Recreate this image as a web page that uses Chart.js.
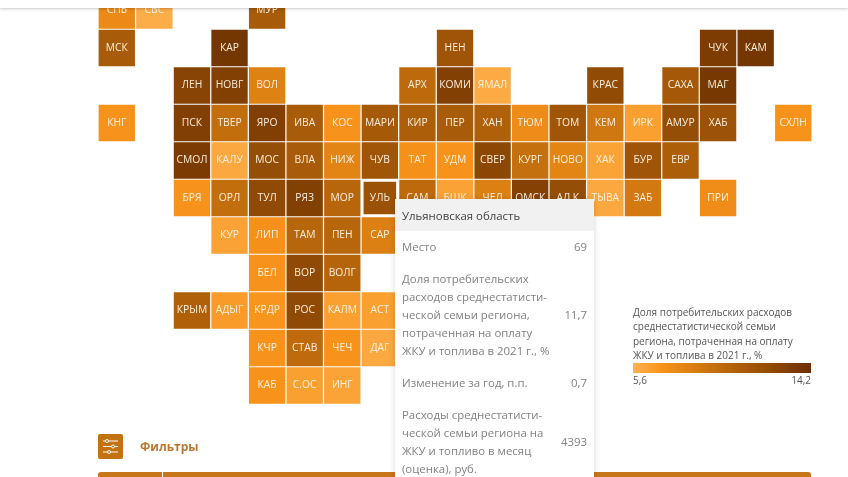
<!DOCTYPE html>
<html lang="ru">
<head>
<meta charset="utf-8">
<title>Доля расходов на ЖКУ и топливо</title>
<script src="https://cdn.jsdelivr.net/npm/chart.js@4"></script>
<style>
    html, body { margin: 0; width: 848px; height: 477px; overflow: hidden; background: #fff; }
    body { font-family: "Open Sans", sans-serif; position: relative; }
    #page { position: absolute; inset: 0; filter: blur(0.35px); }
    #tileChart { position: absolute; left: 0; top: 0; }
    #topBar { position: absolute; left: 0; top: 0; width: 848px; height: 8px; background: #fff; box-shadow: 0 1px 3px rgba(0,0,0,.22); }
    #legend { position: absolute; left: 633px; top: 305px; width: 178px; font-size: 10px; line-height: 14.4px; color: #555; }
    #legendBar { height: 10.5px; margin-top: 0; }
    #legendEnds { display: flex; justify-content: space-between; line-height: 15px; }
    #filterIcon { position: absolute; left: 98px; top: 434px; width: 25px; height: 25px; background: #c27210; border-radius: 2px; }
    #filterText { position: absolute; left: 140px; top: 438px; font-size: 12px; line-height: 18px; font-weight: 700; color: #b87830; }
    #filterBar { position: absolute; left: 98px; top: 472px; width: 713px; height: 8px; background: #c8761a; border-radius: 3px 3px 0 0; }
    #filterBar i { position: absolute; left: 64px; top: 0; width: 1px; height: 8px; background: #fff; }
    #tip { position: absolute; left: 395px; top: 199px; width: 199px; height: 290px; background: #fff; box-shadow: 0 1px 6px rgba(0,0,0,.16); font-size: 11.4px; line-height: 18px; color: #828282; }
    #tipHead { height: 32px; line-height: 33px; padding-left: 7px; background: #f1f1f1; color: #444; }
    .tipRow { display: flex; align-items: center; justify-content: space-between; padding: 7px 7px 7px 7px; }
    .tipRow span:first-child { width: 152px; }
</style>
</head>
<body>
<div id="page">
    <canvas id="tileChart" width="848" height="477"></canvas>
    <div id="topBar"></div>
    <div id="legend">
        <div id="legendTitle"></div>
        <div id="legendBar"></div>
        <div id="legendEnds"><span id="legendMin"></span><span id="legendMax"></span></div>
    </div>
    <div id="filterIcon">
        <svg width="25" height="25" stroke="#fff" stroke-width="1" fill="#c27210">
            <path d="M5 7H20M5 12.5H20M5 18H20"/>
            <circle cx="9" cy="7" r="1.5"/><circle cx="15" cy="12.5" r="1.5"/><circle cx="11" cy="18" r="1.5"/>
        </svg>
    </div>
    <div id="filterText">Фильтры</div>
    <div id="filterBar"><i></i></div>
    <div id="tip"><div id="tipHead"></div></div>
</div>
<script>
// Плитки регионов по рядам карты, null = пустая клетка
const tileLabels = [
    ['СПБ', 'СВС', null, null, 'МУР'],
    ['МСК', null, null, 'КАР', null, null, null, null, null, 'НЕН', null, null, null, null, null, null, 'ЧУК', 'КАМ'],
    [null, null, 'ЛЕН', 'НОВГ', 'ВОЛ', null, null, null, 'АРХ', 'КОМИ', 'ЯМАЛ', null, null, 'КРАС', null, 'САХА', 'МАГ'],
    ['КНГ', null, 'ПСК', 'ТВЕР', 'ЯРО', 'ИВА', 'КОС', 'МАРИ', 'КИР', 'ПЕР', 'ХАН', 'ТЮМ', 'ТОМ', 'КЕМ', 'ИРК', 'АМУР', 'ХАБ', null, 'СХЛН'],
    [null, null, 'СМОЛ', 'КАЛУ', 'МОС', 'ВЛА', 'НИЖ', 'ЧУВ', 'ТАТ', 'УДМ', 'СВЕР', 'КУРГ', 'НОВО', 'ХАК', 'БУР', 'ЕВР'],
    [null, null, 'БРЯ', 'ОРЛ', 'ТУЛ', 'РЯЗ', 'МОР', 'УЛЬ', 'САМ', 'БШК', 'ЧЕЛ', 'ОМСК', 'АЛ К', 'ТЫВА', 'ЗАБ', null, 'ПРИ'],
    [null, null, null, 'КУР', 'ЛИП', 'ТАМ', 'ПЕН', 'САР'],
    [null, null, null, null, 'БЕЛ', 'ВОР', 'ВОЛГ'],
    [null, null, 'КРЫМ', 'АДЫГ', 'КРДР', 'РОС', 'КАЛМ', 'АСТ'],
    [null, null, null, null, 'КЧР', 'СТАВ', 'ЧЕЧ', 'ДАГ'],
    [null, null, null, null, 'КАБ', 'С.ОС', 'ИНГ']
];

// Значения (оценка по цвету плиток), %
const tileValues = [
    [7.6, 5.8, null, null, 11],
    [11, null, null, 13.7, null, null, null, null, null, 11.5, null, null, null, null, null, null, 13.3, 13.7],
    [null, null, 12.7, 13, 8.2, null, null, null, 9.9, 13, 5.9, null, null, 12.2, null, 11.2, 13.6],
    [7, null, 13.1, 9.6, 13.1, 11, 7, 11.1, 10.8, 11, 10.6, 7.5, 11.4, 9, 6.4, 12, 11.6, null, 7],
    [null, null, 13.4, 6, 12, 11, 8, 11.4, 7.1, 7, 12.5, 9.5, 8, 6.2, 11.5, 10.8],
    [null, null, 7, 9.6, 12.3, 13, 10.2, 11.7, 9.9, 6.3, 8.3, 12.9, 12, 6, 8.8, null, 7.4],
    [null, null, null, 6.3, 7.1, 10.2, 10.2, 8.3],
    [null, null, null, null, 7, 12.3, 10.3],
    [null, null, 10.6, 6.6, 6.9, 12.3, 6.4, 6.4],
    [null, null, null, null, 7, 9.8, 7, 6],
    [null, null, null, null, 7, 6.4, 6.2]
];

const activeRegion = 'УЛЬ';
const legendTitle = 'Доля потребительских расходов среднестатистической семьи региона, потраченная на оплату ЖКУ и топлива в 2021 г., %';
const valueMin = 5.6;
const valueMax = 14.2;
const colorStops = ['#fdb150', '#f7931a', '#b5640a', '#6c3000'];
const colorStopAt = [0, 0.16, 0.55, 1];

const tipTitle = 'Ульяновская область';
const tipNames = [
    'Место',
    'Доля потребительских расходов среднестатисти-ческой семьи региона, потраченная на оплату ЖКУ и топлива в 2021 г., %',
    'Изменение за год, п.п.',
    'Расходы среднестатисти-ческой семьи региона на ЖКУ и топливо в месяц (оценка), руб.'
];
const tipValues = ['69', '11,7', '0,7', '4393'];

function hexToRgb(hex) {
    return [1, 3, 5].map(i => parseInt(hex.slice(i, i + 2), 16));
}

// Цвет плитки по значению
function valueColor(value) {
    const t = (value - valueMin) / (valueMax - valueMin);
    let i = 0;
    while (i < colorStops.length - 2 && t > colorStopAt[i + 1]) i++;
    const k = Math.min(1, Math.max(0, (t - colorStopAt[i]) / (colorStopAt[i + 1] - colorStopAt[i])));
    const a = hexToRgb(colorStops[i]);
    const b = hexToRgb(colorStops[i + 1]);
    return `rgb(${a.map((c, n) => Math.round(c + (b[n] - c) * k)).join(',')})`;
}

const points = [];
tileLabels.forEach((row, r) => {
    row.forEach((label, c) => {
        if (label) points.push({ x: c, y: r, label: label, value: tileValues[r][c] });
    });
});

// Подписи внутри плиток
const tileTextPlugin = {
    id: 'tileText',
    afterDatasetsDraw(chart) {
        const ctx = chart.ctx;
        const meta = chart.getDatasetMeta(0);
        ctx.save();
        ctx.font = '10.3px "Open Sans"';
        ctx.textAlign = 'center';
        ctx.textBaseline = 'middle';
        ctx.fillStyle = 'rgba(255,245,232,0.95)';
        meta.data.forEach((el, i) => {
            ctx.fillText(points[i].label, el.x, el.y);
        });
        ctx.restore();
    }
};

new Chart(document.getElementById('tileChart').getContext('2d'), {
    type: 'scatter',
    data: {
        datasets: [{
            data: points,
            pointStyle: 'rect',
            pointRadius: ctx => (ctx.raw.label === activeRegion ? 24.8 : 25.7),
            pointBorderWidth: ctx => (ctx.raw.label === activeRegion ? 2.5 : 0),
            pointBorderColor: '#fff',
            pointBackgroundColor: ctx => valueColor(ctx.raw.value)
        }]
    },
    options: {
        responsive: false,
        animation: false,
        events: [],
        layout: { padding: 0, autoPadding: false },
        plugins: { legend: { display: false }, tooltip: { enabled: false } },
        scales: {
            x: { type: 'linear', display: false, min: -3.108, max: 19.457 },
            y: { type: 'linear', display: false, reverse: true, min: -0.28, max: 12.44 }
        }
    },
    plugins: [tileTextPlugin]
});

// Легенда
document.getElementById('legendTitle').textContent = legendTitle;
document.getElementById('legendBar').style.background =
    `linear-gradient(to right, ${colorStops.map((c, i) => `${c} ${colorStopAt[i] * 100}%`).join(', ')})`;
document.getElementById('legendMin').textContent = String(valueMin).replace('.', ',');
document.getElementById('legendMax').textContent = String(valueMax).replace('.', ',');

// Подсказка
const tip = document.getElementById('tip');
document.getElementById('tipHead').textContent = tipTitle;
tipNames.forEach((name, i) => {
    const row = document.createElement('div');
    row.className = 'tipRow';
    const left = document.createElement('span');
    left.innerHTML = name.replace('-', '-<br>');
    const right = document.createElement('span');
    right.textContent = tipValues[i];
    row.append(left, right);
    tip.append(row);
});
</script>
</body>
</html>
